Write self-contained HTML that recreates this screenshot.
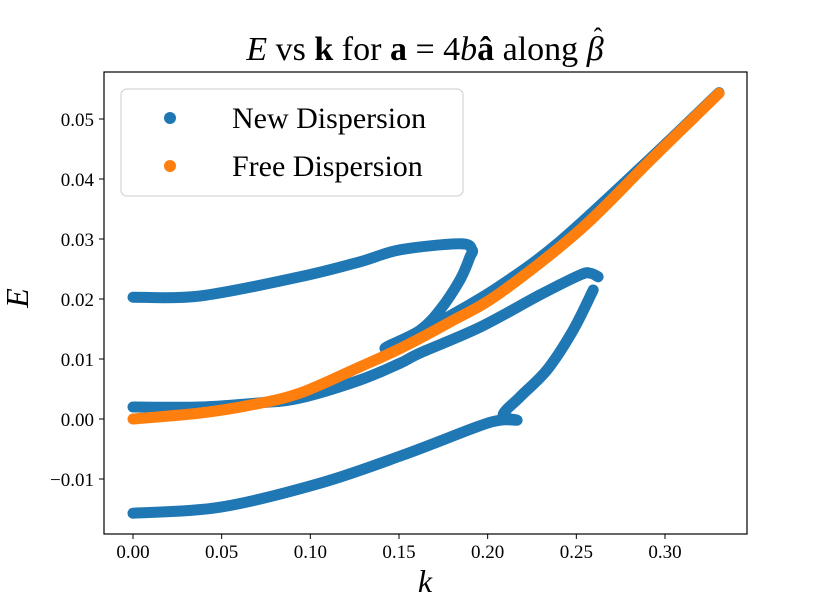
<!DOCTYPE html>
<html><head><meta charset="utf-8"><style>
body{margin:0;background:#fff;}
svg{display:block;font-family:"Liberation Serif","DejaVu Serif",serif;}
</style></head><body>
<svg width="830" height="600" viewBox="0 0 830 600">
<rect width="830" height="600" fill="#fff"/>
<text x="425" y="60" text-anchor="middle" font-size="34"><tspan font-style="italic">E</tspan> vs <tspan font-weight="bold">k</tspan> for <tspan font-weight="bold">a</tspan> = 4<tspan font-style="italic">b</tspan><tspan font-weight="bold">â</tspan> along <tspan font-style="italic">β</tspan></text>
<text x="598" y="46" text-anchor="middle" font-size="26">ˆ</text>
<g id="plot"></g>
<rect x="104" y="72" width="643" height="462" fill="none" stroke="#000" stroke-width="1.2"/>
<g id="xt"></g>
<g id="yt"></g>
<text x="425" y="592" text-anchor="middle" font-size="32" font-style="italic">k</text>
<text transform="translate(28,298) rotate(-90)" text-anchor="middle" font-size="32" font-style="italic">E</text>
<g>
<rect x="121" y="89" width="342" height="107" rx="6" fill="#fff" fill-opacity="0.8" stroke="#ccc" stroke-width="1"/>
<circle cx="170" cy="118" r="6" fill="#1f77b4"/>
<text x="232" y="128" font-size="30">New Dispersion</text>
<circle cx="170" cy="166" r="6" fill="#ff7f0e"/>
<text x="232" y="176" font-size="30">Free Dispersion</text>
</g>
</svg>
<script>
const xTicks=[0,0.05,0.10,0.15,0.20,0.25,0.30];
const xTickLabels=["0.00","0.05","0.10","0.15","0.20","0.25","0.30"];
const yTicks=[-0.01,0,0.01,0.02,0.03,0.04,0.05];
const yTickLabels=["\u22120.01","0.00","0.01","0.02","0.03","0.04","0.05"];
const freeK=[0,0.038,0.066,0.094,0.128,0.151,0.179,0.207,0.252,0.292,0.3305];
const freeE=[0,0.001,0.0023,0.0043,0.0087,0.0118,0.0162,0.021,0.0315,0.0432,0.0543];
const topK=[0,0.0378,0.0942,0.128,0.1506,0.1844,0.1912,0.19,0.1844,0.1732,0.1619,0.145,0.1421];
const topE=[0.0203,0.0205,0.0237,0.0262,0.0282,0.0292,0.0282,0.027,0.0232,0.0182,0.0148,0.0123,0.0118];
const upperK=[0.1421,0.1506,0.1788,0.207,0.2408,0.2916,0.3305];
const upperE=[0.0118,0.0128,0.0172,0.0222,0.0296,0.0434,0.0544];
const midK=[0,0.0378,0.0716,0.0942,0.128,0.1506,0.1619,0.1957,0.2296,0.2521,0.2578,0.2623];
const midE=[0.002,0.002,0.0027,0.0035,0.0065,0.0093,0.011,0.0153,0.0207,0.024,0.0243,0.0237];
const foldK=[0.2595,0.2482,0.2335,0.2183,0.2087,0.2166];
const foldE=[0.0215,0.0148,0.0082,0.0037,0.0007,-0.0002];
const lowK=[0,0.0491,0.1055,0.1523,0.194,0.207,0.2155];
const lowE=[-0.0157,-0.0147,-0.0107,-0.006,-0.0013,-0.0002,-0.0002];

const NS="http://www.w3.org/2000/svg";
const sx=k=>133+k*1773.3;
const sy=e=>419-e*6000;
const plot=document.getElementById('plot');
function smoothPath(P){
  let d='M'+P[0][0].toFixed(1)+','+P[0][1].toFixed(1);
  for(let i=0;i<P.length-1;i++){
    const p0=P[Math.max(0,i-1)],p1=P[i],p2=P[i+1],p3=P[Math.min(P.length-1,i+2)];
    const c1x=p1[0]+(p2[0]-p0[0])/6,c1y=p1[1]+(p2[1]-p0[1])/6;
    const c2x=p2[0]-(p3[0]-p1[0])/6,c2y=p2[1]-(p3[1]-p1[1])/6;
    d+=' C'+c1x.toFixed(1)+','+c1y.toFixed(1)+' '+c2x.toFixed(1)+','+c2y.toFixed(1)+' '+p2[0].toFixed(1)+','+p2[1].toFixed(1);
  }
  return d;
}
function series(K,E,color,name){
  const P=K.map((k,i)=>[sx(k),sy(E[i])]);
  const p=document.createElementNS(NS,'path');
  p.setAttribute('d',smoothPath(P));
  p.setAttribute('fill','none');p.setAttribute('stroke',color);
  p.setAttribute('stroke-width','11');p.setAttribute('stroke-linecap','round');p.setAttribute('stroke-linejoin','round');
  
  
  plot.appendChild(p);
}
series(topK,topE,'#1f77b4','new-dispersion-top-branch');
series(upperK,upperE,'#1f77b4','new-dispersion-upper-branch');
series(midK,midE,'#1f77b4','new-dispersion-middle-branch');
series(foldK,foldE,'#1f77b4','new-dispersion-fold-branch');
series(lowK,lowE,'#1f77b4','new-dispersion-lower-branch');
series(freeK,freeE,'#ff7f0e','free-dispersion-curve');

const xt=document.getElementById('xt');
xTicks.forEach((v,i)=>{
  const x=sx(v);
  const l=document.createElementNS(NS,'line');
  l.setAttribute('x1',x);l.setAttribute('x2',x);l.setAttribute('y1',534);l.setAttribute('y2',539);l.setAttribute('stroke','#000');
  
  
  xt.appendChild(l);
  const t=document.createElementNS(NS,'text');
  t.setAttribute('x',x);t.setAttribute('y',558);t.setAttribute('text-anchor','middle');t.setAttribute('font-size','19');
  t.textContent=xTickLabels[i];
  
  
  xt.appendChild(t);
});
const yt=document.getElementById('yt');
yTicks.forEach((v,i)=>{
  const y=sy(v);
  const l=document.createElementNS(NS,'line');
  l.setAttribute('x1',99);l.setAttribute('x2',104);l.setAttribute('y1',y);l.setAttribute('y2',y);l.setAttribute('stroke','#000');
  
  
  yt.appendChild(l);
  const t=document.createElementNS(NS,'text');
  t.setAttribute('x',94);t.setAttribute('y',y+7);t.setAttribute('text-anchor','end');t.setAttribute('font-size','19');
  t.textContent=yTickLabels[i];
  
  
  yt.appendChild(t);
});
</script>
</body></html>
